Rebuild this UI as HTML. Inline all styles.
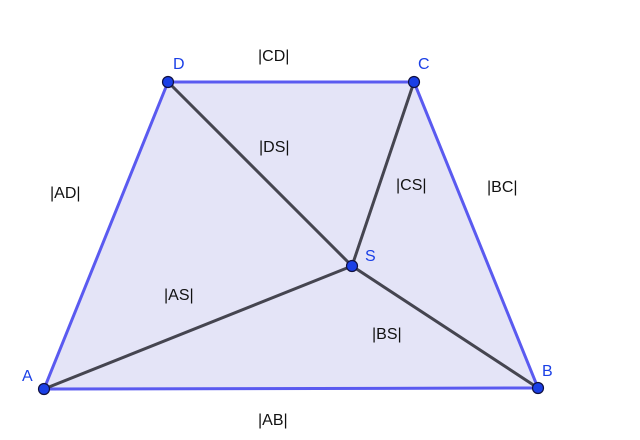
<!DOCTYPE html>
<html><head><meta charset="utf-8"><style>
html,body{margin:0;padding:0;background:#fff;}
svg{display:block;}
text{font-family:"Liberation Sans",sans-serif;font-size:16px;}
</style></head><body>
<svg width="640" height="440" viewBox="0 0 640 440">
<polygon points="44,389 538,388 414,82 168,82" fill="#e4e4f7" stroke="#5a5af0" stroke-width="3" stroke-linejoin="round"/>
<g stroke="#454550" stroke-width="3" stroke-linecap="round">
<line x1="168" y1="82" x2="352" y2="266"/>
<line x1="414" y1="82" x2="352" y2="266"/>
<line x1="44" y1="389" x2="352" y2="266"/>
<line x1="538" y1="388" x2="352" y2="266"/>
</g>
<g fill="#1a3fe6" stroke="#101040" stroke-width="1.2">
<circle cx="44" cy="389" r="5.5"/>
<circle cx="538" cy="388" r="5.5"/>
<circle cx="414" cy="82" r="5.5"/>
<circle cx="168" cy="82" r="5.5"/>
<circle cx="352" cy="266" r="5.5"/>
</g>
<g fill="#1a3fe6">
<text x="173" y="69">D</text>
<text x="418" y="69">C</text>
<text x="22" y="381">A</text>
<text x="542" y="376">B</text>
<text x="365" y="261">S</text>
</g>
<g fill="#111">
<text x="258" y="61">|CD|</text>
<text x="259" y="152">|DS|</text>
<text x="50" y="198">|AD|</text>
<text x="396" y="190">|CS|</text>
<text x="487" y="192">|BC|</text>
<text x="164" y="300">|AS|</text>
<text x="372" y="339">|BS|</text>
<text x="258" y="425">|AB|</text>
</g>
</svg>
</body></html>
